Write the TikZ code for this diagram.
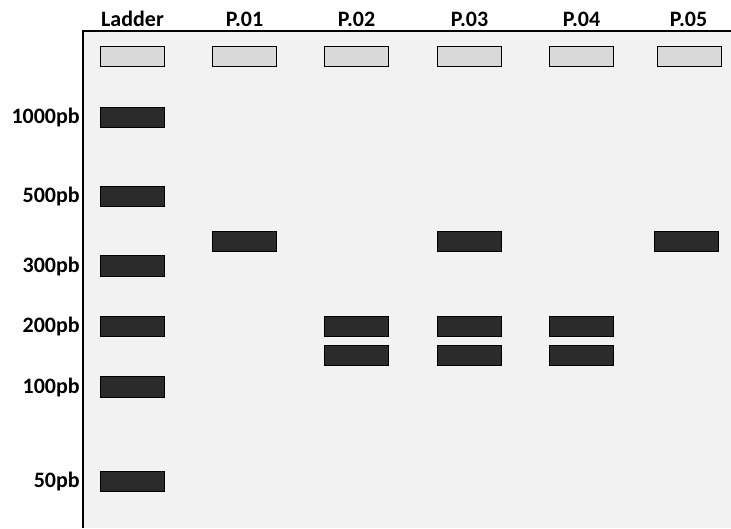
\documentclass[tikz,border=0pt]{standalone}
\usepackage{fontspec}
\setmainfont{Carlito}
\usetikzlibrary{positioning}

\begin{document}
\begin{tikzpicture}[x=0.75pt,y=-0.75pt,
  well/.style={draw=black, fill=black!15, line width=0.8pt, inner sep=0pt,
               minimum width=48.5pt, minimum height=15.5pt},
  band/.style={draw=black, fill=black!83, line width=0.8pt, inner sep=0pt,
               minimum width=48.5pt, minimum height=15.5pt},
  lane/.style={font=\bfseries\fontsize{16.5}{19}\selectfont, inner sep=0pt},
  size/.style={font=\bfseries\fontsize{16.5}{19}\selectfont, inner sep=0pt, anchor=east}]
  \useasboundingbox (0,0) rectangle (731,528);
  % Gel background and its two edges
  \fill[black!5] (83,31) rectangle (731,528);
  \draw[line width=0.8pt] (83,528) -- (83,31) -- (731,31);
  % Wells on top of each lane
  \node[well] (wL) at (132.5,56.5) {};
  \node[well] (w1) at (244.5,56.5) {};
  \node[well] (w2) at (356.5,56.5) {};
  \node[well] (w3) at (469.5,56.5) {};
  \node[well] (w4) at (581.5,56.5) {};
  \node[well] (w5) at (689.5,56.5) {};
  % Lane names
  \node[lane] (hL) at (132.5,19) {Ladder};
  \node[lane] (h1) at (244.5,19) {P.01};
  \node[lane] (h2) at (356.5,19) {P.02};
  \node[lane] (h3) at (469.5,19) {P.03};
  \node[lane] (h4) at (581.5,19) {P.04};
  \node[lane] (h5) at (688.5,19) {P.05};
  % Ladder bands
  \node[band] (b1000) at (132.5,117.5) {};
  \node[band] (b500) at (132.5,196.5) {};
  \node[band] (b300) at (132.5,266) {};
  \node[band] (b200) at (132.5,326.5) {};
  \node[band] (b100) at (132.5,387) {};
  \node[band] (b50) at (132.5,481.5) {};
  % Sizes of the ladder
  \node[size] (s1000) at (80,118) {1000pb};
  \node[size] (s500) at (80,197) {500pb};
  \node[size] (s300) at (80,267) {300pb};
  \node[size] (s200) at (80,327) {200pb};
  \node[size] (s100) at (80,388) {100pb};
  \node[size] (s50) at (80,482) {50pb};
  % Sample bands
  \node[band] (p1a) at (244.5,241.5) {};
  \node[band] (p2a) at (356.5,326.5) {};
  \node[band] (p2b) at (356.5,355.5) {};
  \node[band] (p3a) at (469.5,241.5) {};
  \node[band] (p3b) at (469.5,326.5) {};
  \node[band] (p3c) at (469.5,355.5) {};
  \node[band] (p4a) at (581.5,326.5) {};
  \node[band] (p4b) at (581.5,355.5) {};
  \node[band] (p5a) at (686.5,241.5) {};
\end{tikzpicture}
\end{document}
